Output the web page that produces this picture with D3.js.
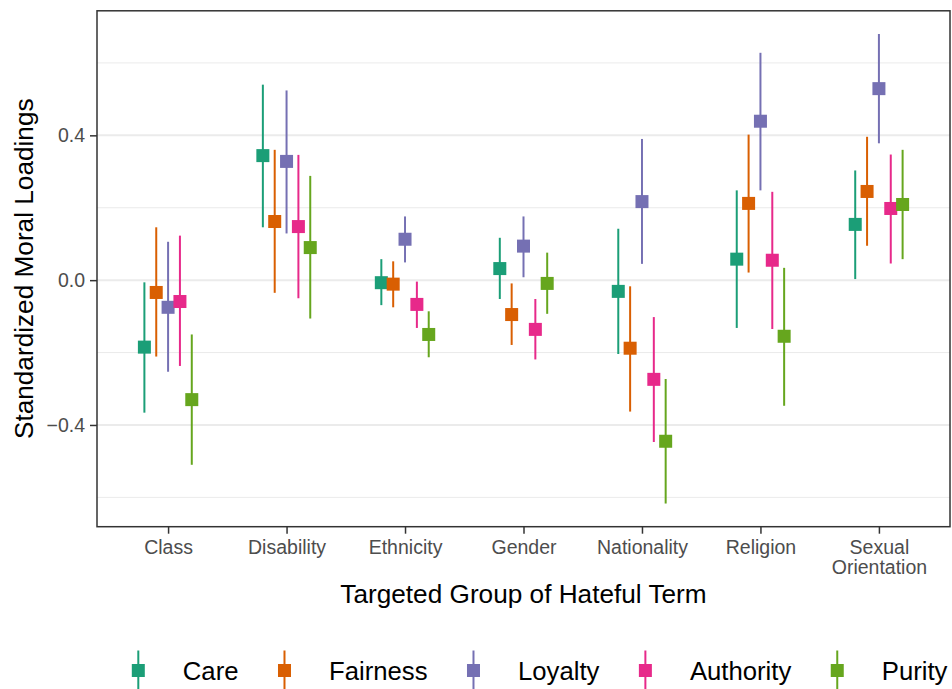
<!DOCTYPE html>
<html>
<head>
<meta charset="utf-8">
<script src="https://cdn.jsdelivr.net/npm/d3@7"></script>
<style>
  body { margin: 0; background: #fff; }
  text { font-family: "Liberation Sans", Arial, sans-serif; }
</style>
</head>
<body>
<div id="chart"></div>
<script>
// Moral loadings by targeted group (point + interval)

var groups = ["Class", "Disability", "Ethnicity", "Gender", "Nationality", "Religion", "Sexual Orientation"];
var foundations = ["Care", "Fairness", "Loyalty", "Authority", "Purity"];
var colors = ["#1B9E77", "#D95F02", "#7570B3", "#E7298A", "#66A61E"];

// estimates, one array per foundation, in the order of groups
var care      = [-0.185, 0.344, -0.007,  0.032, -0.031,  0.058, 0.154];
var fairness  = [-0.034, 0.162, -0.011, -0.095, -0.188,  0.212, 0.245];
var loyalty   = [-0.075, 0.328,  0.113,  0.094,  0.217,  0.439, 0.529];
var authority = [-0.059, 0.148, -0.067, -0.136, -0.274,  0.055, 0.198];
var purity    = [-0.330, 0.090, -0.150, -0.009, -0.445, -0.155, 0.209];

// lower / upper interval bounds
var careLo      = [-0.366,  0.146, -0.069, -0.052, -0.204, -0.132, 0.003];
var careHi      = [-0.006,  0.540,  0.058,  0.117,  0.142,  0.248, 0.303];
var fairnessLo  = [-0.211, -0.035, -0.075, -0.179, -0.363,  0.021, 0.095];
var fairnessHi  = [ 0.146,  0.360,  0.052, -0.009, -0.017,  0.402, 0.396];
var loyaltyLo   = [-0.253,  0.129,  0.049,  0.008,  0.045,  0.248, 0.378];
var loyaltyHi   = [ 0.106,  0.524,  0.176,  0.176,  0.390,  0.628, 0.680];
var authorityLo = [-0.237, -0.050, -0.132, -0.219, -0.447, -0.135, 0.046];
var authorityHi = [ 0.123,  0.346, -0.004, -0.052, -0.102,  0.244, 0.347];
var purityLo    = [-0.510, -0.106, -0.213, -0.093, -0.617, -0.347, 0.058];
var purityHi    = [-0.150,  0.288, -0.086,  0.076, -0.273,  0.034, 0.360];

var yTicks = [-0.4, 0.0, 0.4];
var yMinor = [-0.6, -0.2, 0.2, 0.6];

var estimates = [care, fairness, loyalty, authority, purity];
var lows = [careLo, fairnessLo, loyaltyLo, authorityLo, purityLo];
var highs = [careHi, fairnessHi, loyaltyHi, authorityHi, purityHi];

var width = 952;
var height = 689;
var panel = { left: 97, right: 950, top: 10.8, bottom: 526.7 };

var svg = d3.select("#chart")
            .append("svg")
            .attr("width", width)
            .attr("height", height);

var x = d3.scalePoint()
          .domain(groups)
          .range([panel.left, panel.right])
          .padding(0.6);

var y = d3.scaleLinear()
          .domain([-0.681, 0.744])
          .range([panel.bottom, panel.top]);

var color = d3.scaleOrdinal().domain(foundations).range(colors);

// dodge: spread of the 5 foundations within a group
var dodge = d3.scalePoint()
              .domain(foundations)
              .range([-0.2 * x.step(), 0.2 * x.step()]);

// grid
svg.selectAll(".minor")
   .data(yMinor)
   .enter()
   .append("line")
   .attr("x1", panel.left).attr("x2", panel.right)
   .attr("y1", d => y(d)).attr("y2", d => y(d))
   .attr("stroke", "#EBEBEB")
   .attr("stroke-width", 1);

svg.selectAll(".major")
   .data(yTicks)
   .enter()
   .append("line")
   .attr("x1", panel.left).attr("x2", panel.right)
   .attr("y1", d => y(d)).attr("y2", d => y(d))
   .attr("stroke", "#EBEBEB")
   .attr("stroke-width", 2);

// flatten to rows
var rows = [];
foundations.forEach(function(f, i) {
    groups.forEach(function(g, j) {
        rows.push({ group: g, foundation: f, est: estimates[i][j], lo: lows[i][j], hi: highs[i][j] });
    });
});

var marks = svg.append("g");

marks.selectAll(".bar")
     .data(rows)
     .enter()
     .append("line")
     .attr("x1", d => x(d.group) + dodge(d.foundation))
     .attr("x2", d => x(d.group) + dodge(d.foundation))
     .attr("y1", d => y(d.lo))
     .attr("y2", d => y(d.hi))
     .attr("stroke", d => color(d.foundation))
     .attr("stroke-width", 2);

var sq = 13;
marks.selectAll(".pt")
     .data(rows)
     .enter()
     .append("rect")
     .attr("x", d => x(d.group) + dodge(d.foundation) - sq / 2)
     .attr("y", d => y(d.est) - sq / 2)
     .attr("width", sq)
     .attr("height", sq)
     .attr("fill", d => color(d.foundation));

// panel border
svg.append("rect")
   .attr("x", panel.left).attr("y", panel.top)
   .attr("width", panel.right - panel.left)
   .attr("height", panel.bottom - panel.top)
   .attr("fill", "none")
   .attr("stroke", "#333333")
   .attr("stroke-width", 1.5);

// axes
var yAxis = svg.append("g")
               .attr("transform", "translate(" + panel.left + ",0)")
               .call(d3.axisLeft(y).tickValues(yTicks).tickSize(7).tickPadding(5)
                       .tickFormat(d => d3.format(".1f")(d).replace("-", "\u2212")));

var xAxis = svg.append("g")
               .attr("transform", "translate(0," + panel.bottom + ")")
               .call(d3.axisBottom(x).tickSize(7).tickPadding(5).tickFormat(""));

[yAxis, xAxis].forEach(function(a) {
    a.select(".domain").remove();
    a.selectAll(".tick line").attr("stroke", "#333333").attr("stroke-width", 1.5);
});
yAxis.selectAll(".tick text")
     .attr("fill", "#4D4D4D")
     .style("font-size", "19.5px");

// category labels (may wrap on two lines)
xAxis.selectAll(".tick")
     .each(function(d) {
         var words = d === "Sexual Orientation" ? ["Sexual", "Orientation"] : [d];
         var t = d3.select(this).append("text")
                   .attr("fill", "#4D4D4D")
                   .attr("text-anchor", "middle")
                   .style("font-size", "19.5px");
         words.forEach(function(w, k) {
             t.append("tspan").attr("x", 0).attr("y", 27 + k * 20.5).text(w);
         });
     });

// axis titles
svg.append("text")
   .attr("x", (panel.left + panel.right) / 2)
   .attr("y", 603)
   .attr("text-anchor", "middle")
   .style("font-size", "26.2px")
   .text("Targeted Group of Hateful Term");

svg.append("text")
   .attr("transform", "translate(33," + (panel.top + panel.bottom) / 2 + ") rotate(-90)")
   .attr("text-anchor", "middle")
   .style("font-size", "26.2px")
   .text("Standardized Moral Loadings");

// legend
var legend = svg.append("g");
var lx = 138.3;
var ly = 670.5;
foundations.forEach(function(f) {
    var item = legend.append("g");
    item.append("line")
        .attr("x1", lx).attr("x2", lx)
        .attr("y1", ly - 20).attr("y2", ly + 20)
        .attr("stroke", color(f))
        .attr("stroke-width", 2);
    item.append("rect")
        .attr("x", lx - 6.5).attr("y", ly - 6.5)
        .attr("width", 13).attr("height", 13)
        .attr("fill", color(f));
    var txt = item.append("text")
        .attr("x", lx + 44.5)
        .attr("y", 680)
        .style("font-size", "25.7px")
        .text(f);
    lx = lx + 44.5 + txt.node().getComputedTextLength() + 46;
});
</script>
</body>
</html>
